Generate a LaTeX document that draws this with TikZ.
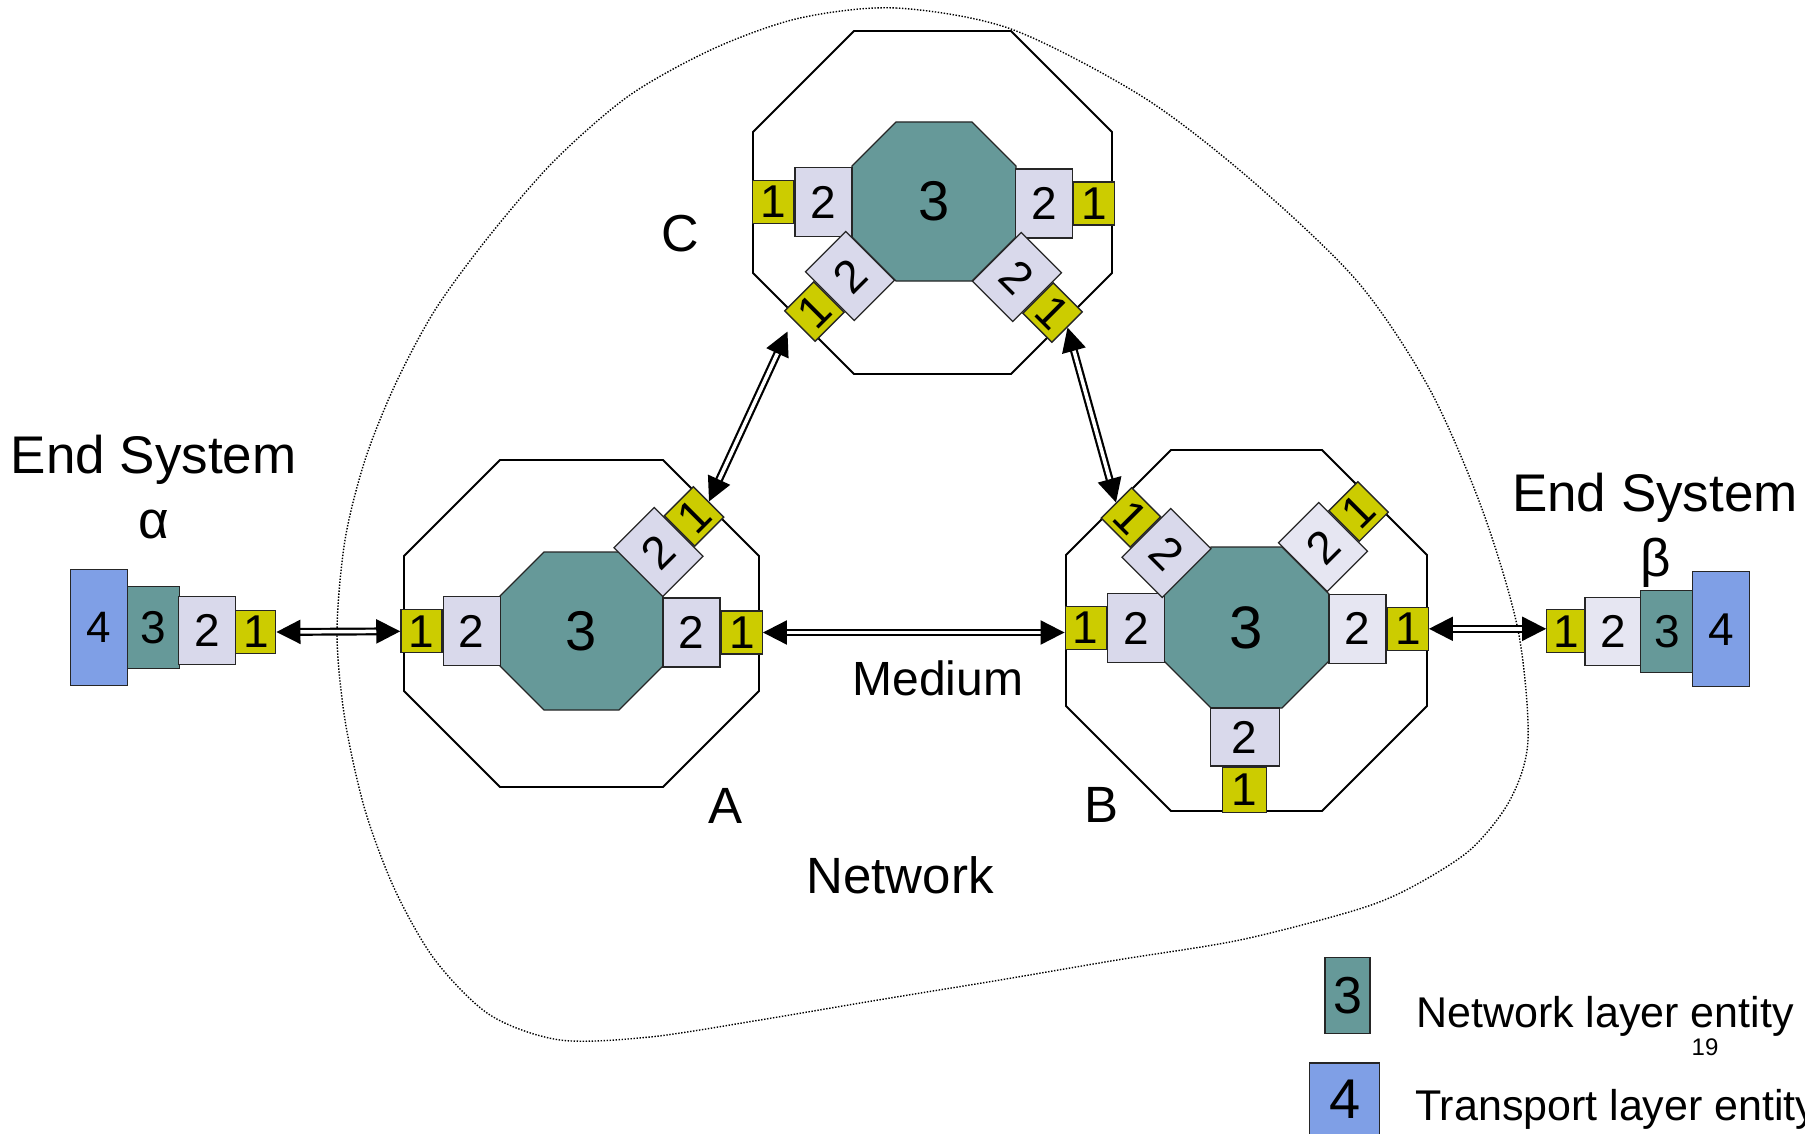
\documentclass[tikz,border=0pt]{standalone}
\usepackage{fontspec}
\setmainfont{Liberation Sans}
\usetikzlibrary{arrows.meta,calc}

\definecolor{netteal}{HTML}{669999}
\definecolor{phyolive}{HTML}{CCCC00}
\definecolor{linklav}{HTML}{D9D9EB}
\definecolor{linklavb}{HTML}{E6E6F2}
\definecolor{transblue}{HTML}{7F9FE6}

% octagon: [style]{cx}{cy}{width}{height}{corner cut}
\newcommand\octo[6][]{%
  \draw[#1] ({#2-#4/2+#6},{#3-#5/2}) -- ({#2+#4/2-#6},{#3-#5/2})
    -- ({#2+#4/2},{#3-#5/2+#6}) -- ({#2+#4/2},{#3+#5/2-#6})
    -- ({#2+#4/2-#6},{#3+#5/2}) -- ({#2-#4/2+#6},{#3+#5/2})
    -- ({#2-#4/2},{#3+#5/2-#6}) -- ({#2-#4/2},{#3-#5/2+#6}) -- cycle;}

\tikzset{
  fs/.style={font=\fontsize{#1}{#1}\selectfont},
  box/.style={draw=black!85, line width=1.3pt, inner sep=0pt, fs=46},
  lone/.style={box, fill=phyolive, minimum width=41pt, minimum height=43pt},
  ltwo/.style={box, fill=linklav, minimum width=57pt, minimum height=69pt},
  ltwob/.style={ltwo, fill=linklavb},
  router/.style={line width=1.8pt, draw=black},
  core/.style={line width=1.3pt, draw=black!85, fill=netteal},
  lbl/.style={inner sep=0pt, fs=#1},
  link/.style={draw=black, double=white, double distance=3.5pt, line width=2.2pt,
    {Triangle[length=24pt,width=24pt]}-{Triangle[length=24pt,width=24pt]}},
  cloudline/.style={draw=black, line width=1.4pt, dash pattern=on 1.4pt off 1.6pt}
}

\begin{document}
\begin{tikzpicture}[x=1pt, y=-1pt]
\useasboundingbox (0,0) rectangle (1805,1134);

% the network boundary
\draw[cloudline] plot[smooth cycle, tension=0.5] coordinates {
  (800,18) (896,8) (1011,29) (1143,97) (1250,179) (1357,281) (1429,388)
  (1482,509) (1518,630) (1528,740) (1510,800) (1470,850) (1410,888)
  (1356,910) (1240,940) (1117,960) (1000,980) (878,1000) (760,1020)
  (650,1037) (560,1040) (490,1015) (435,960) (395,890) (365,810)
  (345,720) (337,633) (345,540) (365,460) (395,385) (435,310) (490,235)
  (555,160) (630,95) (715,48)};

% ---------- router C ----------
\octo[router]{932.5}{202.5}{359}{343}{101}
\octo[core]{934}{201.5}{164}{159}{44}
\node[lbl=56] (C3) at (934,201.5) {3};
\node[ltwo] (Cl2) at (823.5,202) {2};
\node[lone, anchor=east] (Cl1) at (Cl2.west) {1};
\node[ltwo] (Cr2) at (1044,203.5) {2};
\node[lone, anchor=west] (Cr1) at (Cr2.east) {1};
\node[ltwo, rotate=45] (Cll2) at (850,276) {2};
\node[lone, rotate=45, anchor=east] (Cll1) at (Cll2.west) {1};
\node[ltwo, rotate=-45] (Clr2) at (1017,277) {2};
\node[lone, rotate=-45, anchor=west] (Clr1) at (Clr2.east) {1};

% ---------- router A ----------
\octo[router]{581.5}{623.5}{355}{327}{96}
\octo[core]{581.5}{631}{163}{158}{44}
\node[lbl=56] (A3) at (581.5,631) {3};
\node[ltwo] (Al2) at (471.7,631.3) {2};
\node[lone, anchor=east] (Al1) at (Al2.west) {1};
\node[ltwo] (Ar2) at (691.5,632.5) {2};
\node[lone, anchor=west] (Ar1) at (Ar2.east) {1};
\node[ltwo, rotate=45] (Aur2) at (658.5,552) {2};
\node[lone, rotate=45, anchor=west] (Aur1) at (Aur2.east) {1};

% ---------- router B ----------
\octo[router]{1246.5}{630.5}{361}{361}{105}
\octo[core]{1246.5}{627.5}{165}{161}{47}
\node[lbl=60] (B3) at (1246.5,627.5) {3};
\node[ltwo] (Bl2) at (1136,628) {2};
\node[lone, anchor=east] (Bl1) at (Bl2.west) {1};
\node[ltwob] (Br2) at (1357.5,628.8) {2};
\node[lone, anchor=west] (Br1) at (Br2.east) {1};
\node[ltwo, minimum width=69pt, minimum height=58pt] (Bb2) at (1244.7,737) {2};
\node[lone, minimum width=44pt, minimum height=45pt, anchor=north] (Bb1) at (Bb2.south) {1};
\node[ltwo, rotate=-45] (Bul2) at (1166.5,553) {2};
\node[lone, rotate=-45, anchor=east] (Bul1) at (Bul2.west) {1};
\node[ltwob, rotate=45] (Bur2) at (1323,547) {2};
\node[lone, rotate=45, anchor=west] (Bur1) at (Bur2.east) {1};

% ---------- end system alpha ----------
\node[box, fill=transblue, minimum width=57pt, minimum height=116pt, fs=44] (a4) at (99,627.8) {4};
\node[box, fill=netteal, minimum width=52pt, minimum height=82pt, fs=46] (a3) at (153.2,627.8) {3};
\node[ltwo, minimum height=68pt, fs=46] (a2) at (207.3,630.8) {2};
\node[lone, minimum width=40pt, fs=46] (a1) at (255.8,632) {1};

% ---------- end system beta ----------
\node[lone, minimum width=38pt, fs=46] (b1) at (1565.8,631.3) {1};
\node[ltwob, minimum width=56pt, minimum height=68pt, fs=46] (b2) at (1613,631.8) {2};
\node[box, fill=netteal, minimum width=52pt, minimum height=82pt, fs=46] (b3) at (1666.8,631.5) {3};
\node[box, fill=transblue, minimum width=57pt, minimum height=115pt, fs=46] (b4) at (1721.3,629.2) {4};

% ---------- media ----------
\coordinate (CAend) at ($(Cll1.west)+(-12,5)$);
\draw[link] (a1.east) -- (Al1.west);
\draw[link] (Ar1.east) -- (Ar1.east -| Bl1.west);
\draw[link] (Br1.east) -- (Br1.east -| b1.west);
\draw[link] (Aur1.east) -- (CAend);
\draw[link] (Clr1.east) -- (Bul1.west);

% ---------- labels ----------
\node[lbl=53, anchor=base] (esa) at (153.8,473) {End System};
\node[lbl=53, anchor=base] (alpha) at (153.5,538) {α};
\node[lbl=53, anchor=base] (esb) at (1655,511.7) {End System};
\node[lbl=53, anchor=base] (beta) at (1655.7,576.5) {β};
\node[lbl=52, anchor=base] (labC) at (680.5,251.5) {C};
\node[lbl=51, anchor=base] (labA) at (725.7,823) {A};
\node[lbl=51, anchor=base] (labB) at (1101,822.7) {B};
\node[lbl=48, anchor=base] (medium) at (937.8,695) {Medium};
\node[lbl=51, anchor=base] (network) at (900,893) {Network};

% ---------- legend ----------
\node[box, fill=netteal, minimum width=45pt, minimum height=76pt, fs=52] (k3) at (1347.5,995.7) {3};
\node[box, fill=transblue, minimum width=70pt, minimum height=72pt, fs=56] (k4) at (1344.7,1099) {4};
\node[lbl=43, anchor=base west] (k3t) at (1416,1027) {Network layer entity};
\node[lbl=43, anchor=base west] (k4t) at (1415,1120) {Transport layer entity};
\node[lbl=24] (pageno) at (1705,1047.5) {19};
\end{tikzpicture}
\end{document}
